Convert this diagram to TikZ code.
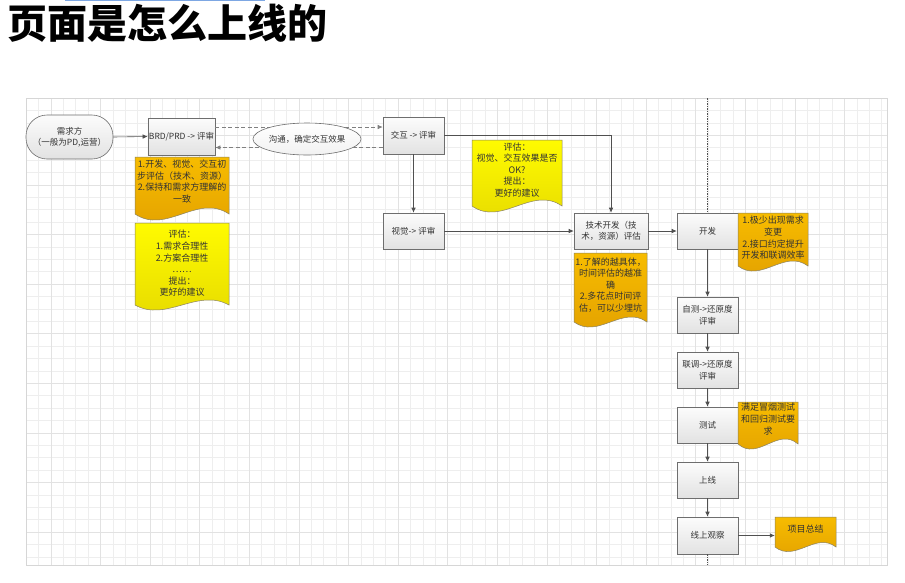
\documentclass[tikz,border=0pt]{standalone}
\usepackage{fontspec}
\setmainfont{Noto Sans CJK SC}
\usetikzlibrary{arrows.meta,shapes.geometric,calc}

\definecolor{lineC}{HTML}{505050}
\definecolor{boxborder}{HTML}{6E6E6E}
\definecolor{boxtop}{HTML}{FCFCFC}
\definecolor{boxbot}{HTML}{E2E2E2}
\definecolor{orgtop}{HTML}{F7BC00}
\definecolor{orgbot}{HTML}{E2A000}
\definecolor{yeltop}{HTML}{FFFB00}
\definecolor{yelbot}{HTML}{E6DA00}
\definecolor{noteborder}{HTML}{8A8262}
\definecolor{txt}{HTML}{333333}
\definecolor{gridminor}{HTML}{EEEEEE}
\definecolor{gridmajor}{HTML}{E2E2E2}
\definecolor{gridedge}{HTML}{D6D6D6}
\definecolor{titlebar}{HTML}{7DA7E3}

\tikzset{
  procbox/.style={draw=boxborder, line width=0.6pt, top color=boxtop, bottom color=boxbot,
    minimum width=61pt, minimum height=36pt, inner sep=1pt, align=center, text=txt,
    font=\fontsize{8.5}{11.5}\selectfont},
  startshape/.style={procbox, rounded corners=21pt, minimum width=87pt, minimum height=44pt},
  talkshape/.style={ellipse, draw=boxborder, line width=0.6pt, top color=white, bottom color=boxtop!60!boxbot,
    minimum width=106pt, minimum height=32pt, inner sep=0pt, text=txt,
    font=\fontsize{8.5}{11.5}\selectfont},
  flow/.style={draw=lineC, line width=0.6pt, -{Latex[length=5pt,width=4.5pt]}},
  dflow/.style={flow, draw=gray, dash pattern=on 4pt off 2.5pt},
  laneline/.style={draw=lineC, line width=0.6pt, dash pattern=on 1.5pt off 1pt},
  orangenote/.style={draw=noteborder, line width=0.5pt, top color=orgtop, bottom color=orgbot},
  yellownote/.style={draw=noteborder, line width=0.5pt, top color=yeltop, bottom color=yelbot},
  notetext/.style={align=center, text=txt, inner sep=0pt, font=\fontsize{9}{11.6}\selectfont},
  gridthin/.style={draw=gridminor, line width=0.5pt},
  gridthick/.style={draw=gridmajor, line width=0.6pt},
}

% Document-shaped note with a wavy bottom edge
% #1 name, #2 style, #3 left x, #4 top y, #5 right x, #6 base y of the wave,
% #7 wave amplitude, #8 y of the text centre, #9 text
\newcommand{\docnote}[9]{%
  \path[#2] (#3,#4) -- (#5,#4) -- (#5,#6)
    .. controls ({#3+2*(#5-#3)/3},{#6-3.5*#7}) and ({#3+(#5-#3)/3},{#6+3.5*#7}) .. (#3,#6) -- cycle;
  \pgfmathsetmacro\notewd{#5-#3}%
  \node[notetext, minimum width=\notewd pt] (#1) at ({(#3+#5)/2},#8) {#9};
}

\begin{document}
\begin{tikzpicture}[x=1pt,y=-1pt]
\useasboundingbox (0,0) rectangle (905,582);
\fill[white] (0,0) rectangle (905,582);

% thin bar along the top edge
\fill[titlebar] (65,0) rectangle (265,1.3);

% heading
\node[anchor=west, inner sep=0pt, font=\fontsize{40}{44}\selectfont\bfseries] (title) at (7,23) {页面是怎么上线的};

% drawing grid
\foreach \i in {0,...,69} \draw[gridthin] ({26+\i*12.4},98) -- ({26+\i*12.4},565);
\foreach \j in {0,...,37} \draw[gridthin] (26,{98+\j*12.4}) -- (887,{98+\j*12.4});
\foreach \i in {2,6,...,66} \draw[gridthick] ({26+\i*12.4},98) -- ({26+\i*12.4},565);
\foreach \j in {3,7,...,35} \draw[gridthick] (26,{98+\j*12.4}) -- (887,{98+\j*12.4});
\draw[draw=gridedge, line width=0.7pt] (26,98) rectangle (887,565);

% process nodes
\node[startshape] (src) at (69.5,137) {需求方\\（一般为PD,运营）};
\node[procbox, minimum width=65pt, minimum height=37pt] (brd) at (181.5,136.5) {BRD/PRD -> 评审};
\node[procbox, minimum height=37pt] (ixd) at (413.5,135.5) {交互 -> 评审};
\node[procbox] (vis) at (413.5,231) {视觉-> 评审};
\node[procbox, minimum width=74pt] (tech) at (611,231) {技术开发（技\\术，资源）评估};
\node[procbox] (dev) at (707.5,231) {开发};
\node[procbox] (selft) at (707.5,315) {自测->还原度\\评审};
\node[procbox] (joint) at (707.5,370) {联调->还原度\\评审};
\node[procbox] (qa) at (707.5,425) {测试};
\node[procbox] (golive) at (707.5,480) {上线};
\node[procbox, minimum height=37pt] (watch) at (707.5,535.5) {线上观察};

% lane divider
\coordinate (laneTop) at (707.5,98);
\coordinate (laneBot) at (707.5,565);
\draw[laneline] (laneTop) -- (dev.north);
\draw[laneline] (watch.south) -- (laneBot);

% notes
\docnote{noteA}{orangenote}{135}{157}{229}{214}{6}{181.5}{1.开发、视觉、交互初\\步评估（技术、资源）\\2.保持和需求方理解的\\一致}
\docnote{noteB}{yellownote}{135}{223}{229}{305}{5}{263.5}{评估：\\1.需求合理性\\2.方案合理性\\……\\提出：\\更好的建议}
\docnote{noteC}{yellownote}{472}{140}{562}{206}{6}{170}{评估：\\视觉、交互效果是否\\OK?\\提出：\\更好的建议}
\docnote{noteD}{orangenote}{574}{253}{647}{322}{5}{285}{1.了解的越具体，\\时间评估的越准\\确\\2.多花点时间评\\估，可以少埋坑}
\docnote{noteE}{orangenote}{738}{213}{808}{266}{5}{238}{1.极少出现需求\\变更\\2.接口约定提升\\开发和联调效率}
\docnote{noteF}{orangenote}{738}{402}{798}{444}{5}{419}{满足冒烟测试\\和回归测试要\\求}
\docnote{wrapup}{orangenote}{775}{517}{836}{547}{4.5}{529.5}{项目总结}

% connectors
\draw[flow] (src.east) -- (brd.west);
\coordinate (goOut) at ($(brd.east)+(0,-9.5)$);
\coordinate (comeBack) at ($(brd.east)+(0,11)$);
\draw[dflow] (goOut) -- (goOut -| ixd.west);
\draw[dflow] (comeBack -| ixd.west) -- (comeBack);
\node[talkshape] (talk) at (307,139) {沟通，确定交互效果};
\draw[flow] (ixd.south) -- (vis.north);
\draw[flow] (ixd.east) -| (tech.north);
\draw[flow] (vis.east) -- (tech.west);
\draw[flow] (tech.east) -- (dev.west);
\draw[flow] (dev.south) -- (selft.north);
\draw[flow] (selft.south) -- (joint.north);
\draw[flow] (joint.south) -- (qa.north);
\draw[flow] (qa.south) -- (golive.north);
\draw[flow] (golive.south) -- (watch.north);
\draw[flow] (watch.east) -- (watch.east -| wrapup.west);
\end{tikzpicture}
\end{document}
